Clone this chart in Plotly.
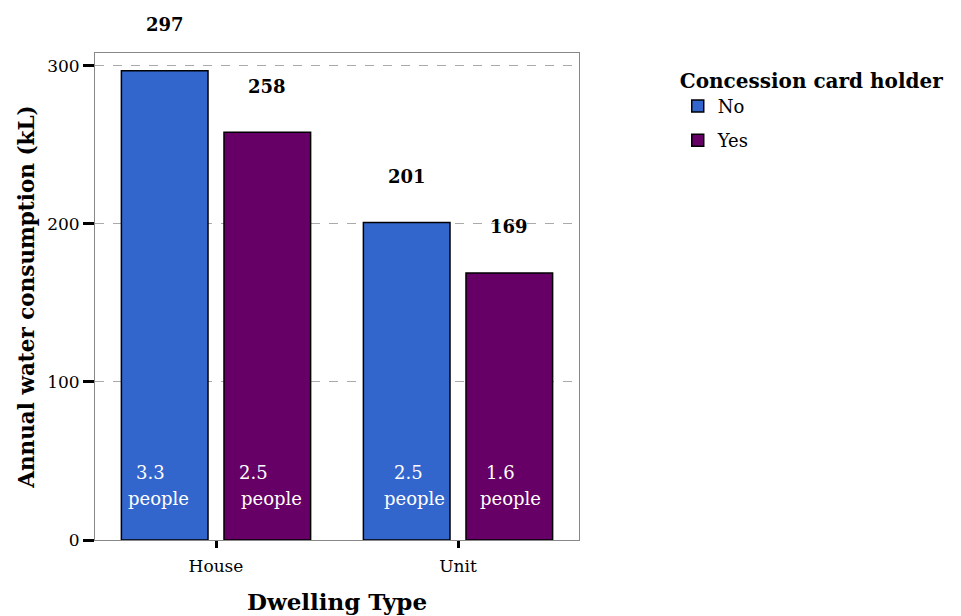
import plotly.graph_objects as go

categories = ["House", "Unit"]
series_names = ["No", "Yes"]
consumption_no = [297, 201]
consumption_yes = [258, 169]
people_no = ["3.3", "2.5"]
people_yes = ["2.5", "1.6"]
y_ticks = [0, 100, 200, 300]

colors = {"No": "#3366CC", "Yes": "#660066"}
FONT = "DejaVu Serif"

fig = go.Figure()
BAR_W = 0.358
offsets = {"No": -0.391, "Yes": 0.033}
for name, vals in zip(series_names, [consumption_no, consumption_yes]):
    fig.add_trace(go.Bar(
        x=categories, y=vals, name=name, legendgroup=name,
        width=BAR_W, offset=offsets[name],
        marker=dict(color=colors[name], line=dict(color="black", width=1.5)),
        hoverinfo="x+y+name",
    ))

annotations = []
# value labels above bars
for name, vals in zip(series_names, [consumption_no, consumption_yes]):
    for i, v in enumerate(vals):
        annotations.append(dict(
            x=i + offsets[name] + BAR_W / 2, y=v, xref="x", yref="y",
            text=f"<b>{v}</b>", showarrow=False, yshift=46,
            font=dict(family=FONT, size=18, color="black"),
        ))
# people labels inside bars (label offsets: number line, "people" line)
shifts_no = [(-14, -6), (2, 8)]
shifts_yes = [(-14, 4), (-9, 1)]
for name, ppl, shifts in [("No", people_no, shifts_no), ("Yes", people_yes, shifts_yes)]:
    for i, p in enumerate(ppl):
        cx = i + offsets[name] + BAR_W / 2
        annotations.append(dict(
            x=cx, y=0, xref="x", yref="y", text=p, showarrow=False,
            yshift=68, xshift=shifts[i][0],
            font=dict(family=FONT, size=18, color="white"),
        ))
        annotations.append(dict(
            x=cx, y=0, xref="x", yref="y", text="people", showarrow=False,
            yshift=42, xshift=shifts[i][1],
            font=dict(family=FONT, size=18, color="white"),
        ))

fig.update_layout(
    width=953, height=608,
    margin=dict(l=87, r=382, t=45, b=76),
    plot_bgcolor="white", paper_bgcolor="white",
    barmode="overlay",
    font=dict(family=FONT, size=17, color="black"),
    annotations=annotations,
    showlegend=True,
    legend=dict(
        title=dict(text="<b>Concession card holder</b>", font=dict(family=FONT, size=20)),
        x=1.204, y=0.982, xanchor="left", yanchor="top",
        font=dict(family=FONT, size=18),
        bgcolor="rgba(0,0,0,0)",
        traceorder="grouped", tracegroupgap=8,
    ),
    xaxis=dict(
        type="category", range=[-0.5, 1.5], automargin=False,
        showline=True, linecolor="#888888", linewidth=1, mirror=True,
        ticks="outside", ticklen=7, tickwidth=3, tickcolor="black",
        ticklabelstandoff=4,
        tickfont=dict(family=FONT, size=17),
        title=dict(text="<b>Dwelling Type</b>", font=dict(family=FONT, size=23), standoff=18),
        showgrid=False,
    ),
    yaxis=dict(
        range=[0, 308.2], tickvals=y_ticks, automargin=False,
        showline=True, linecolor="#888888", linewidth=1, mirror=True,
        ticks="outside", ticklen=11, tickwidth=3, tickcolor="black",
        tickfont=dict(family=FONT, size=17),
        showgrid=True, gridcolor="#aaaaaa", griddash="dash", gridwidth=1,
        zeroline=False,
        title=dict(text="<b>Annual water consumption (kL)</b>", font=dict(family=FONT, size=21.5), standoff=6),
    ),
)

fig.write_html("out.html")
